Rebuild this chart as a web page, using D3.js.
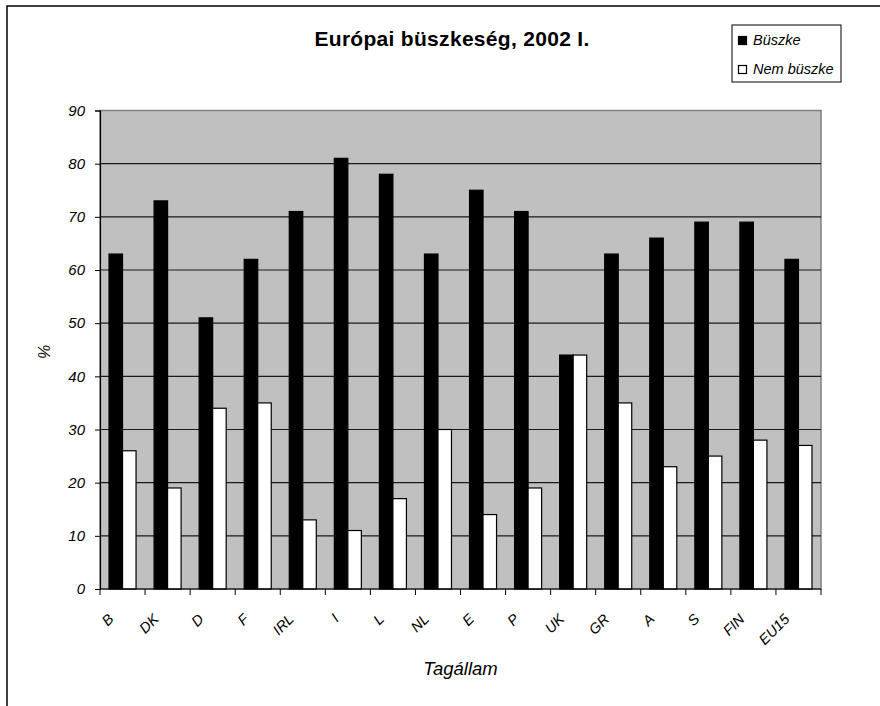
<!DOCTYPE html>
<html>
<head>
<meta charset="utf-8">
<script src="https://cdn.jsdelivr.net/npm/d3@7/dist/d3.min.js"></script>
<style>
  html, body { margin: 0; padding: 0; background: #fff; }
  svg { display: block; font-family: Arial, "Liberation Sans", sans-serif; }
</style>
</head>
<body>
<svg id="chart" width="880" height="706"></svg>
<script>
const categories = ["B","DK","D","F","IRL","I","L","NL","E","P","UK","GR","A","S","FIN","EU15"];
const seriesNames = ["Büszke","Nem büszke"];
const buszke    = [63,73,51,62,71,81,78,63,75,71,44,63,66,69,69,62];
const nemBuszke = [26,19,34,35,13,11,17,30,14,19,44,35,23,25,28,27];
const yTicks = [0,10,20,30,40,50,60,70,80,90];
const title = "Európai büszkeség, 2002 I.";
const xTitle = "Tagállam";
const yTitle = "%";

const svg = d3.select("#chart");
const plot = {left: 100, right: 821, top: 110.5, bottom: 589};

// outer frame (extends beyond viewport on right/bottom)
svg.append("rect").attr("x", 7).attr("y", 6).attr("width", 1000).attr("height", 1000)
  .attr("fill", "none").attr("stroke", "#000").attr("stroke-width", 1.5);

const x = d3.scaleBand().domain(categories).range([plot.left, plot.right]).paddingInner(0).paddingOuter(0);
const xInner = d3.scaleBand().domain(seriesNames).range([0, x.step()]).paddingInner(0).paddingOuter(0.667);
const y = d3.scaleLinear().domain([0, 90]).range([plot.bottom, plot.top]);

// plot background
svg.append("rect").attr("x", plot.left).attr("y", plot.top)
  .attr("width", plot.right - plot.left).attr("height", plot.bottom - plot.top)
  .attr("fill", "#c0c0c0").attr("stroke", "#808080").attr("stroke-width", 1.5);

// gridlines
svg.append("g").selectAll("line").data(yTicks.filter(d => d > 0 && d < 90)).join("line")
  .attr("x1", plot.left).attr("x2", plot.right)
  .attr("y1", d => y(d)).attr("y2", d => y(d))
  .attr("stroke", "#1a1a1a").attr("stroke-width", 1.2);

// bars
const data = categories.map((c, i) => ({cat: c, vals: [buszke[i], nemBuszke[i]]}));
const groups = svg.append("g").selectAll("g").data(data).join("g")
  .attr("transform", d => `translate(${x(d.cat)},0)`);
groups.selectAll("rect").data(d => d.vals.map((v, j) => ({s: seriesNames[j], v, j}))).join("rect")
  .attr("x", d => xInner(d.s))
  .attr("width", xInner.bandwidth())
  .attr("y", d => y(d.v))
  .attr("height", d => y(0) - y(d.v))
  .attr("fill", d => d.j === 0 ? "#000" : "#fff")
  .attr("stroke", "#000").attr("stroke-width", 1.2);

// y axis
const yAxis = d3.axisLeft(y).tickValues(yTicks).tickSize(5).tickPadding(10);
const yg = svg.append("g").attr("transform", `translate(${plot.left},0)`).call(yAxis);
yg.select(".domain").attr("stroke", "#000").attr("stroke-width", 1.2);
yg.selectAll(".tick line").attr("stroke", "#000");
yg.selectAll("text").attr("font-size", 15).attr("font-style", "italic").attr("fill", "#000")
  .attr("font-family", "Arial, 'Liberation Sans', sans-serif");

// x axis (ticks at category boundaries)
const xg = svg.append("g").attr("transform", `translate(0,${plot.bottom})`);
xg.append("line").attr("x1", plot.left).attr("x2", plot.right).attr("stroke", "#000").attr("stroke-width", 1.2);
const boundaries = categories.map(c => x(c)).concat([plot.right]);
xg.selectAll("line.tk").data(boundaries).join("line").attr("class", "tk")
  .attr("x1", d => d).attr("x2", d => d).attr("y1", 0).attr("y2", 6)
  .attr("stroke", "#000");
xg.selectAll("text").data(categories).join("text")
  .attr("transform", d => `translate(${x(d) + x.bandwidth() / 2 - 8},31) rotate(-45)`)
  .attr("text-anchor", "end")
  .attr("font-size", 14.5).attr("font-style", "italic").attr("fill", "#000")
  .text(d => d);

// titles
svg.append("text").attr("x", 452).attr("y", 46).attr("text-anchor", "middle")
  .attr("font-size", 21).attr("font-weight", "bold").attr("letter-spacing", 0.3).text(title);
svg.append("text").attr("x", (plot.left + plot.right) / 2).attr("y", 675).attr("text-anchor", "middle")
  .attr("font-size", 18.5).attr("font-style", "italic").text(xTitle);
svg.append("text").attr("transform", "translate(50,352) rotate(-90)").attr("text-anchor", "middle")
  .attr("font-size", 16).attr("font-style", "italic").text(yTitle);

// legend
const lg = svg.append("g").attr("transform", "translate(732,25)");
lg.append("rect").attr("width", 109).attr("height", 57).attr("fill", "#fff").attr("stroke", "#000").attr("stroke-width", 1);
seriesNames.forEach((n, i) => {
  lg.append("rect").attr("x", 6.5).attr("y", 11.5 + i * 29).attr("width", 8).attr("height", 8)
    .attr("fill", i === 0 ? "#000" : "#fff").attr("stroke", "#000").attr("stroke-width", 1.2);
  lg.append("text").attr("x", 21).attr("y", 20 + i * 29).attr("font-size", 14.5).attr("font-style", "italic").text(n);
});
</script>
</body>
</html>
